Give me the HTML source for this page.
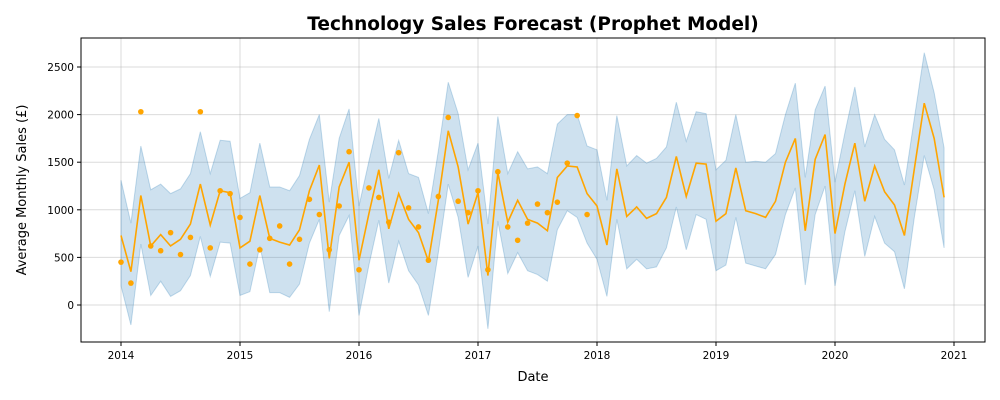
<!DOCTYPE html>
<html><head><meta charset="utf-8"><style>
html,body{margin:0;padding:0;background:#fff;overflow:hidden;width:1000px;height:400px;font-family:"Liberation Sans","DejaVu Sans",sans-serif;}
svg{display:block;}
svg text{font-family:"DejaVu Sans","Liberation Sans",sans-serif;}
</style></head><body>
<svg id="chart" width="1000" height="400" xmlns="http://www.w3.org/2000/svg"></svg>
<script>
const yhat=[730,350,1150,620,740,620,690,850,1270,840,1200,1180,
600,670,1150,700,660,630,790,1200,1470,490,1240,1500,
470,960,1420,800,1170,900,760,460,1100,1830,1450,850,
1180,310,1390,870,1100,900,860,780,1340,1460,1450,1170,
1040,630,1430,930,1030,910,960,1130,1560,1140,1490,1480,
880,960,1440,990,960,920,1090,1500,1750,780,1530,1790,
750,1270,1700,1090,1460,1190,1050,730,1430,2120,1750,1130];
const upper=[1310,860,1670,1210,1270,1170,1220,1380,1820,1380,1730,1720,
1120,1180,1700,1240,1240,1200,1360,1740,2000,1080,1750,2060,
1040,1510,1960,1330,1730,1380,1340,960,1620,2340,2010,1420,
1700,850,1980,1380,1610,1430,1450,1380,1900,2000,2000,1670,
1630,1100,1990,1460,1570,1490,1540,1660,2130,1720,2030,2010,
1420,1520,2000,1500,1510,1500,1590,2000,2330,1340,2050,2300,
1290,1810,2290,1660,2000,1740,1630,1260,1960,2650,2230,1650];
const lower=[200,-210,640,100,250,90,150,310,720,300,660,650,
100,140,620,130,130,80,220,650,900,-70,730,940,
-110,420,890,230,670,360,210,-110,550,1270,920,290,
620,-250,880,330,550,360,320,250,790,990,920,650,
480,90,900,380,480,380,400,600,1030,580,950,900,
360,420,920,440,410,380,530,950,1230,210,950,1250,
200,770,1200,510,930,650,560,170,920,1570,1210,600];
const actual=[450,230,2030,620,570,760,530,710,2030,600,1200,1170,
920,430,580,700,830,430,690,1110,950,580,1040,1610,
370,1230,1130,870,1600,1020,820,470,1140,1970,1090,970,
1200,370,1400,820,680,860,1060,970,1080,1490,1990,950];
const xTicks=[2014,2015,2016,2017,2018,2019,2020,2021];
const yTicks=[0,500,1000,1500,2000,2500];
const L=81,R=985,T=38,B=342;
function xs(m){return 121+(m/12)*119;}
function xy(yr){return 121+(yr-2014)*119;}
function ys(v){return 305-v*0.0952;}
const svg=document.getElementById('chart');
const NS='http://www.w3.org/2000/svg';
function mk(t,a,p){const e=document.createElementNS(NS,t);for(const k in a)e.setAttribute(k,a[k]);(p||svg).appendChild(e);return e;}
const grid=mk('g',{});


xTicks.forEach(t=>{mk('line',{x1:xy(t),x2:xy(t),y1:T,y2:B,stroke:'#b0b0b0','stroke-opacity':0.45,'stroke-width':1},grid);});
yTicks.forEach(t=>{mk('line',{x1:L,x2:R,y1:ys(t),y2:ys(t),stroke:'#b0b0b0','stroke-opacity':0.45,'stroke-width':1},grid);});
let pts=[];
for(let i=0;i<upper.length;i++)pts.push(xs(i)+','+ys(upper[i]));
for(let i=lower.length-1;i>=0;i--)pts.push(xs(i)+','+ys(lower[i]));
const band=mk('polygon',{points:pts.join(' '),fill:'#1f77b4','fill-opacity':0.22,stroke:'#1f77b4','stroke-opacity':0.25,'stroke-width':1});


const line=mk('polyline',{points:yhat.map((v,i)=>xs(i)+','+ys(v)).join(' '),fill:'none',stroke:'#ffa500','stroke-width':1.6});


actual.forEach((v,i)=>{const c=mk('circle',{cx:xs(i),cy:ys(v),r:2.8,fill:'#ffa500'});

});
const fr=mk('rect',{x:L,y:T,width:R-L,height:B-T,fill:'none',stroke:'#000','stroke-width':1});


xTicks.forEach(t=>{mk('line',{x1:xy(t),x2:xy(t),y1:B,y2:B+4,stroke:'#000'});
const tx=mk('text',{x:xy(t),y:B+17,'text-anchor':'middle','font-size':10.5});tx.textContent=t;

});
yTicks.forEach(t=>{mk('line',{x1:L-4,x2:L,y1:ys(t),y2:ys(t),stroke:'#000'});
const tx=mk('text',{x:L-7,y:ys(t)+4,'text-anchor':'end','font-size':10.5});tx.textContent=t;

});
const title=mk('text',{x:533,y:30,'text-anchor':'middle','font-size':18.5,'font-weight':'bold'});
title.textContent='Technology Sales Forecast (Prophet Model)';


const xt=mk('text',{x:533,y:381,'text-anchor':'middle','font-size':13});
xt.textContent='Date';


const yt=mk('text',{x:0,y:0,'text-anchor':'middle','font-size':13,transform:'translate(26,190) rotate(-90)'});
yt.textContent='Average Monthly Sales (£)';


</script>
</body></html>
